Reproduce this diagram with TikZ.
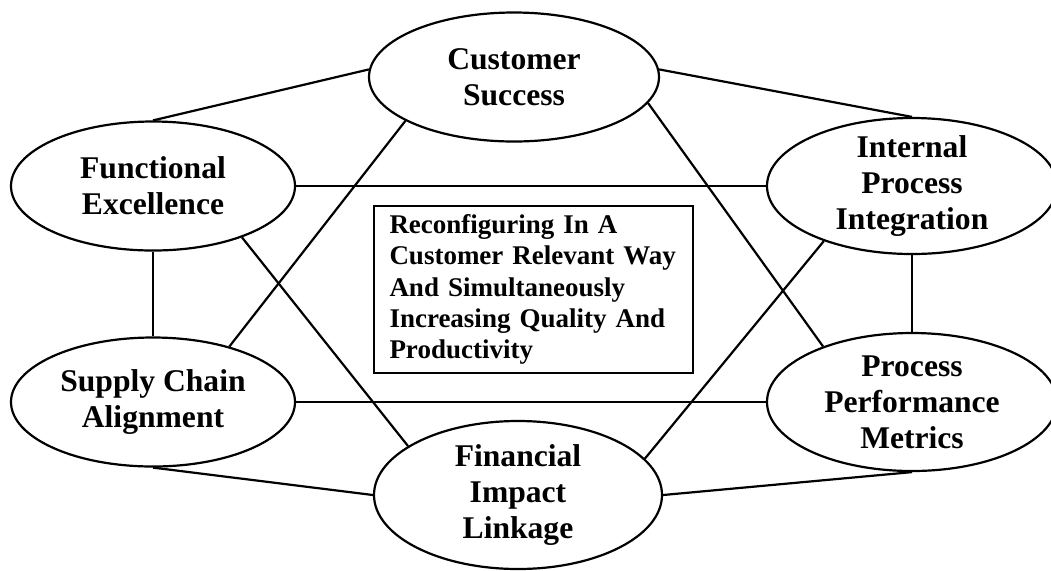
\documentclass[tikz,border=0pt]{standalone}
\usepackage{fontspec}
\setmainfont{Liberation Serif}
\usetikzlibrary{shapes.geometric}

\begin{document}
\begin{tikzpicture}[x=0.5pt,y=-0.5pt,line width=1.1pt]
\tikzstyle{goal node}=[ellipse,draw,inner xsep=0pt,inner ysep=-3pt,align=center,
                       font=\bfseries\fontsize{15.8}{18}\selectfont]
\tikzstyle{aim box}=[draw,align=left,text width=144pt,inner xsep=7.75pt,
                     minimum height=83.5pt,font=\bfseries\fontsize{13.5}{15.7}\selectfont]

\useasboundingbox (0,0) rectangle (1051,570);

% the six ellipses
\node(cust)[goal node,minimum width=145pt,minimum height=64.5pt] at (514,77)  {Customer\\Success};
\node(func)[goal node,minimum width=142pt,minimum height=64.5pt] at (153,186) {Functional\\Excellence};
\node(inte)[goal node,minimum width=145pt,minimum height=68pt]   at (912,186) {Internal\\Process\\Integration};
\node(supp)[goal node,minimum width=142pt,minimum height=64.5pt] at (153,402) {Supply Chain\\Alignment};
\node(proc)[goal node,minimum width=145pt,minimum height=69pt]   at (912,402) {Process\\Performance\\Metrics};
\node(fina)[goal node,minimum width=144pt,minimum height=74pt]   at (518,495) {Financial\\Impact\\Linkage};

% centre statement
\node(core)[aim box] at (533.5,289.5) {Reconfiguring In A\\
    Customer Relevant Way\\
    And Simultaneously\\
    Increasing Quality And\\
    Productivity};

% outer ring
\draw (cust.177) -- (func.north);
\draw (cust.3) -- (inte.north);
\draw (func.south) -- (supp.north);
\draw (inte.south) -- (proc.north);
\draw (supp.south) -- (fina.west);
\draw (fina.east) -- (proc.south);

% horizontals
\draw (func.east) -- (inte.west);
\draw (supp.east) -- (proc.west);

% diagonals
\draw (cust.202) -- (supp.36);
\draw (cust.349) -- (proc.148);
\draw (func.330) -- (fina.156);
\draw (inte.212) -- (fina.16.6);

\end{tikzpicture}
\end{document}
